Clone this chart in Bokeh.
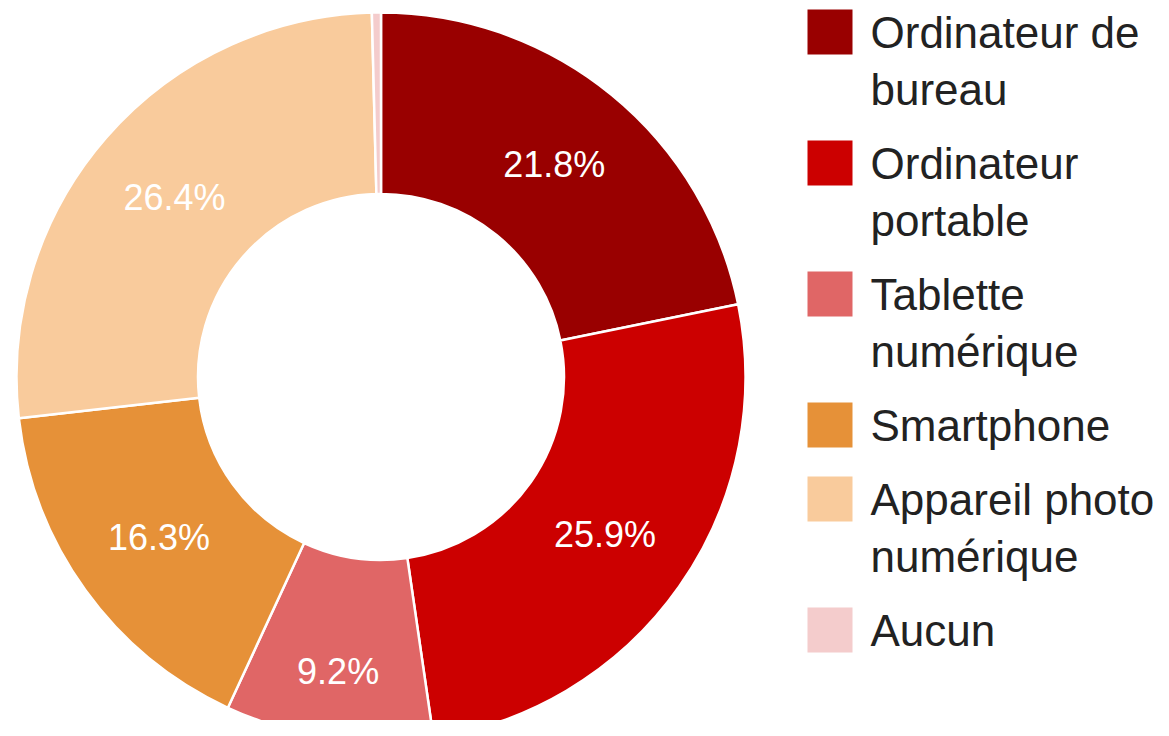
import math
from bokeh.plotting import figure
from bokeh.models import Range1d, ColumnDataSource
from bokeh.core.properties import value
from bokeh.embed import file_html
from bokeh.resources import INLINE

# ---- data ----
categories = ["Ordinateur de bureau", "Ordinateur portable", "Tablette numérique",
              "Smartphone", "Appareil photo numérique", "Aucun"]
legend_lines = [["Ordinateur de", "bureau"], ["Ordinateur", "portable"],
                ["Tablette", "numérique"], ["Smartphone"],
                ["Appareil photo", "numérique"], ["Aucun"]]
values = [21.8, 25.9, 9.2, 16.3, 26.4, 0.4]
colors = ["#990000", "#cc0000", "#e06666", "#e69138", "#f9cb9c", "#f4cccc"]

# ---- layout (pixel coordinates in the picture) ----
W, H = 1153, 720
CX, CY = 380.5, 376.5
R_OUT, R_IN = 364.5, 183.0
label_r_extra = [0, 0, 24, 0, 0, 0]   # label pushed outwards for narrow slice
FONT = "Liberation Sans"

p = figure(width=W, height=H, output_backend="svg", toolbar_location=None,
           x_range=Range1d(0, W), y_range=Range1d(-H, 0),
           min_border=0, outline_line_color=None)
p.axis.visible = False
p.grid.visible = False
p.background_fill_color = "white"

total = sum(values)
starts, ends, mids = [], [], []
c = 0.0
for v in values:
    c0 = c / total
    c += v
    c1 = c / total
    starts.append(math.pi / 2 - 2 * math.pi * c1)
    ends.append(math.pi / 2 - 2 * math.pi * c0)
    mids.append((c0 + c1) / 2)

src = ColumnDataSource(dict(x=[CX] * len(values), y=[-CY] * len(values),
                            start=starts, end=ends, color=colors))
p.annular_wedge(x="x", y="y", inner_radius=R_IN, outer_radius=R_OUT,
                start_angle="start", end_angle="end", direction="anticlock",
                fill_color="color", line_color="white", line_width=2.5, source=src)

# slice labels
lx, ly, lt = [], [], []
for i, v in enumerate(values):
    pct = v / total * 100
    if pct < 2:
        continue
    r = (R_OUT + R_IN) / 2 + label_r_extra[i]
    a = 2 * math.pi * mids[i]
    lx.append(CX + r * math.sin(a))
    ly.append(-(CY - r * math.cos(a)))
    lt.append(f"{pct:.1f}%")
p.text(x=lx, y=ly, text=lt, text_color="white", text_font=value(FONT),
       text_font_size="36px", text_align="center", text_baseline="middle")

# legend
sq_x0, sq_size = 807, 45
text_x = 870
line_h = 57
top = 9.0
rx, ry, rc = [], [], []
tx, ty, tt = [], [], []
for i, lines in enumerate(legend_lines):
    rx.append(sq_x0 + sq_size / 2)
    ry.append(-(top + sq_size / 2))
    rc.append(colors[i])
    for k, ln in enumerate(lines):
        tx.append(text_x)
        ty.append(-(top + 23 + k * line_h))
        tt.append(ln)
    top += 17 + line_h * len(lines)
p.rect(x=rx, y=ry, width=sq_size, height=sq_size, fill_color=rc, line_color=None)
p.text(x=tx, y=ty, text=tt, text_color="#222222", text_font=value(FONT),
       text_font_size="44px", text_align="left", text_baseline="alphabetic")

open("out.html", "w").write(file_html(p, INLINE))
